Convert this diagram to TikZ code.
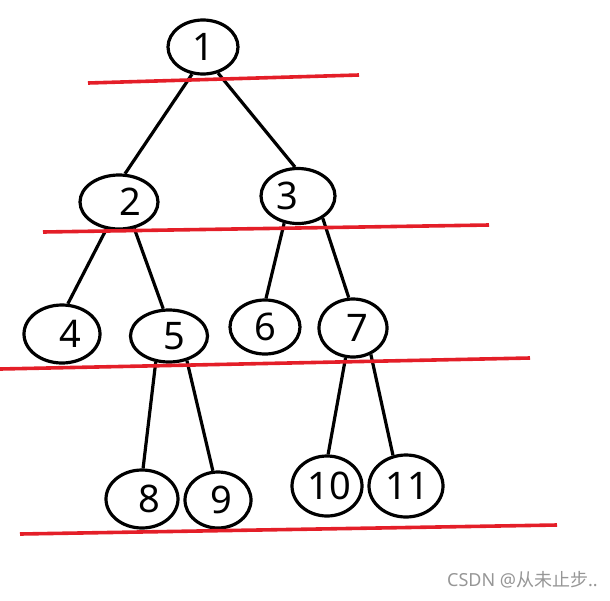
\documentclass[tikz,border=0pt]{standalone}
\usepackage{fontspec}
\setmainfont{Noto Sans}
\newfontfamily\cjkfont{Noto Sans CJK SC}
\usetikzlibrary{shapes.geometric}
\definecolor{cutred}{RGB}{228,30,40}
\definecolor{markgray}{RGB}{150,150,150}
\newcommand{\numat}[3]{\hbox to 0pt{\hss\kern#1pt\raisebox{#2pt}{#3}\hss}}
\tikzset{
  tnode/.style={ellipse, draw=black, line width=3.2pt, inner sep=0pt,
     font=\fontsize{38}{38}\selectfont},
  edge/.style={draw=black, line width=3.2pt},
  cut/.style={draw=cutred, line width=3.6pt}
}
\begin{document}
\begin{tikzpicture}[x=1pt,y=-1pt]
\useasboundingbox (0,0) rectangle (610,600);
% nodes
\node[tnode, minimum width=70pt, minimum height=54pt] (n1) at (203,47) {\numat{0}{0}{1}};
\node[tnode, minimum width=78pt, minimum height=54pt] (n2) at (119,202) {\numat{22}{0}{2}};
\node[tnode, minimum width=74pt, minimum height=55pt] (n3) at (298,196) {\numat{-22}{-2}{3}};
\node[tnode, minimum width=76pt, minimum height=58pt] (n4) at (62,334) {\numat{16}{-4}{4}};
\node[tnode, minimum width=77pt, minimum height=52pt] (n5) at (169,336) {\numat{10}{-6}{5}};
\node[tnode, minimum width=70pt, minimum height=54pt] (n6) at (265,327) {\numat{0}{0}{6}};
\node[tnode, minimum width=68pt, minimum height=58pt] (n7) at (353,328) {\numat{8}{-2}{7}};
\node[tnode, minimum width=72pt, minimum height=58pt] (n8) at (142,499) {\numat{14}{0}{8}};
\node[tnode, minimum width=66pt, minimum height=56pt] (n9) at (218,500) {\numat{6}{-4}{9}};
\node[tnode, minimum width=70pt, minimum height=60pt] (n10) at (327,486) {\numat{4}{0}{10}};
\node[tnode, minimum width=74pt, minimum height=62pt] (n11) at (406,486) {\numat{2}{0}{11}};
% edges
\draw[edge] (n1.-112) -- (n2.78);
\draw[edge] (n1.-60) -- (n3.96);
\draw[edge] (n2.-115) -- (n4.79);
\draw[edge] (n2.-60) -- (n5.102);
\draw[edge] (n3.-117) -- (n6.88);
\draw[edge] (n3.-42) -- (n7.98);
\draw[edge] (n5.-117) -- (n8.88);
\draw[edge] (n5.-54) -- (n9.100);
\draw[edge] (n7.-104) -- (n10.88);
\draw[edge] (n7.-56) -- (n11.113);
% red cut lines
\draw[cut] (88,83) -- (359,75);
\draw[cut] (43,232) -- (489,225);
\draw[cut] (0,369) -- (530,358);
\draw[cut] (20,534) -- (557,525);
% watermark
\node[anchor=east, inner sep=0pt, text=markgray, font=\fontsize{18}{18}\selectfont] (wm) at (598,580) {CSDN @{\cjkfont 从未止步}..};
\end{tikzpicture}
\end{document}
